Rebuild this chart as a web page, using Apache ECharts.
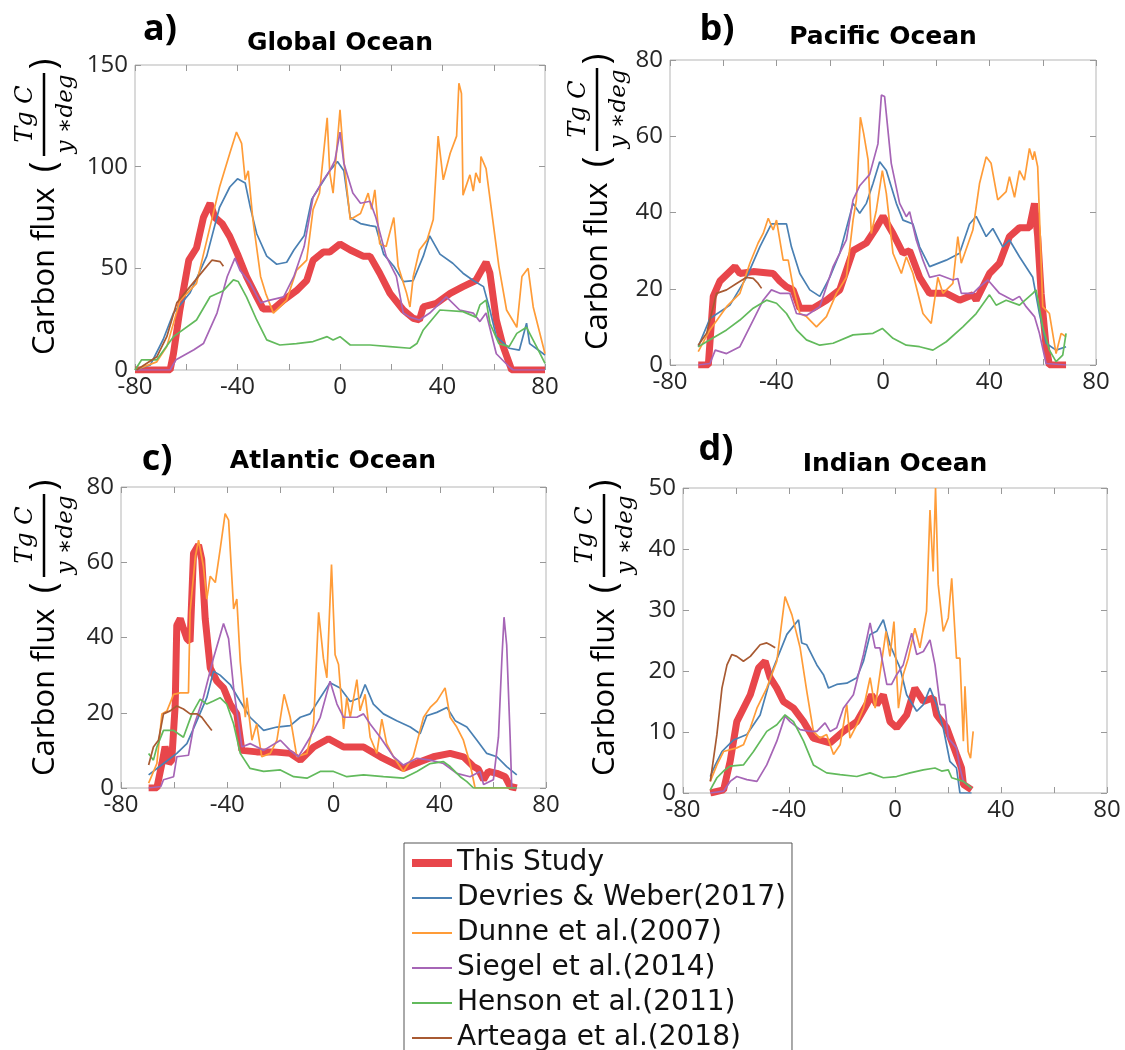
<!DOCTYPE html>
<html>
<head>
<meta charset="utf-8" />
<title>Carbon flux by latitude</title>
<script src="https://cdn.jsdelivr.net/npm/echarts@6/dist/echarts.min.js"></script>
<style>
  html, body { margin: 0; padding: 0; background: #fff; }
  #chart { width: 1125px; height: 1050px; }
</style>
</head>
<body>
<div id="chart"></div>
<script>
// series names (legend order)
var names = ['This Study', 'Devries & Weber(2017)', 'Dunne et al.(2007)', 'Siegel et al.(2014)', 'Henson et al.(2011)', 'Arteaga et al.(2018)'];
var colors = ['#e8464b', '#4a80b3', '#ff9c38', '#a665b6', '#62ba5c', '#a85a32'];

// panel titles and y ticks
var panelLabels = ['a)', 'b)', 'c)', 'd)'];
var panelTitles = ['Global Ocean', 'Pacific Ocean', 'Atlantic Ocean', 'Indian Ocean'];
var yMaxes = [150, 80, 80, 50];
var ySteps = [50, 20, 20, 10];
var xTicks = [-80, -40, 0, 40, 80];

/***** a) Global Ocean  [lat, flux] *****/
var gloRed = [[-80,0],[-66.3,0],[-65,8],[-62.5,29.5],[-59,54],[-56,60],[-53.3,75],[-50.7,82],[-48.8,75],[-46,72],[-43,65.6],[-40,57],[-36.5,46],[-32.5,36],[-30,30],[-26,30],[-22,34.4],[-17,39],[-13,44],[-10.5,54],[-6.5,58],[-4,58],[0,62],[4,59],[9,56],[11.7,56],[15.5,47.6],[19.5,37.7],[24.7,29.5],[28.6,25.4],[31,24.6],[32.5,31],[37.6,32.8],[43,37.7],[48,41],[53,44],[57,53],[58.5,47.6],[61,24.6],[63.7,11.5],[67,0],[80,0]];
var gloBlue = [[-80,0],[-74,2.5],[-69,15],[-65,28],[-58.5,38],[-52,56],[-47,80],[-43,90],[-40,94],[-37,92],[-35,80],[-32.5,67],[-28.6,56],[-24.7,52],[-20.8,53],[-18,59],[-14,66],[-11,84],[-8,90],[-4,98],[-1,102.5],[1.5,98],[4,75],[8,72],[11.7,71],[14,70.5],[17,57],[21,51],[24.7,43.5],[28.6,44],[32.5,56],[35,66],[39,57],[44,52.5],[48,47.6],[52,44],[56,41],[58.5,29.5],[61,16.4],[66,10.7],[70,9.8],[72.8,23],[74,13],[80,7.4]];
var gloOrange = [[-80,0],[-71.5,4],[-67.6,11.5],[-62.5,34],[-56,42.6],[-50.7,70.5],[-47,90],[-43,106.6],[-40.4,117],[-38.4,111.5],[-37,93.5],[-35.8,98],[-34,74],[-31,46],[-29,37.7],[-26,28],[-20.8,34.4],[-17,49],[-13,54],[-10.5,79],[-8,87],[-5,124],[-4,97],[-2.7,87],[0,128],[1.5,103],[4,74],[8,77],[11,87],[12.3,79],[13.6,88.6],[15.5,62],[18,60.7],[21,75],[22.7,51],[26,37.7],[27.3,31],[28.6,46],[31,59],[34,64],[36.4,74],[38.3,115],[40.3,93.5],[43,106.6],[45.5,115],[46.4,141],[47.4,136],[48,86],[50.7,96],[52,88],[53,97],[54.6,92],[55,105],[57,99],[59.6,74],[62,51],[65,29.5],[69,21],[71,46],[73.4,50],[75.4,31],[80,8]];
var gloPurple = [[-80,0],[-66.3,0],[-64,5],[-57,10],[-53.3,13],[-48,28],[-44,46],[-41,55],[-39,49],[-35,42.6],[-31,33],[-27.3,34.4],[-22,36],[-18,46],[-14,60.7],[-10.5,85],[-6.5,93.5],[-4,98],[-2,103],[0,117],[1.5,101.7],[5,87],[8,82],[11.7,83],[14,75],[18,56],[22,46],[24.7,28],[27.3,26],[31,24.6],[35,28],[41.5,36],[46.7,29.5],[52,28],[54.6,23.8],[57,28],[61,8],[66,1.6],[67.6,0],[80,0]];
var gloGreen = [[-80,0],[-77.4,5],[-71.5,5],[-65,16.4],[-56,24.6],[-50.7,36],[-45.5,39],[-41.6,44.3],[-39.7,43.5],[-36.5,36],[-32.5,24.6],[-28.6,14.8],[-23.5,12.3],[-17,13],[-10.5,14],[-5,16.4],[-2.7,14.8],[0,16.4],[4,12.3],[11.7,12.3],[19.5,11.5],[27.3,10.7],[30,13],[32.5,19.7],[39,29.5],[48,28.7],[53,26],[54.6,32],[57,34.4],[58.5,23],[62,13],[66,11.5],[69,18],[72.8,21],[76.7,11.5],[80,3.3]];
var gloBrown = [[-79.4,0],[-71.5,6.5],[-67.6,16.4],[-63.7,33],[-58.5,41],[-53.3,49],[-50,54],[-46.8,53.3],[-45.5,51]];

/***** b) Pacific Ocean *****/
var pacRed = [[-69.4,0],[-65.6,0],[-63.75,18],[-61.25,22],[-55.6,25.8],[-53.75,24],[-48.75,24.5],[-41.25,24],[-38.75,22],[-36.25,20.5],[-33.75,19.7],[-31.25,14.9],[-26.25,14.9],[-21.25,17],[-16.25,19.7],[-11.25,30],[-6.25,32],[-2.5,36],[0,39],[3.75,34.5],[7.5,29.3],[10,30],[13.75,23],[17.5,18.8],[23.75,18.8],[28.75,17],[33.75,18.4],[35,17],[40,24],[43.75,26.7],[47.5,33.7],[51.25,36],[55,36],[56.9,42.4],[58.1,33.7],[59.4,18.8],[61.25,4.8],[62.5,0],[68.75,0]];
var pacBlue = [[-69.4,4.8],[-65,12.2],[-57.5,15.7],[-51.25,23],[-46.25,31],[-41.9,37],[-36.25,37],[-34.4,31],[-31.25,24],[-27.5,19.7],[-23.75,18],[-20,23],[-16.25,29.3],[-11.25,42.4],[-8.75,39.8],[-6.25,42.4],[-3.75,47.6],[-1.25,53.3],[1.25,51],[5,42.4],[7.5,38],[11.25,37],[13.75,31],[17.5,25.8],[23.75,27.5],[28.75,29.3],[32.5,37],[35,39],[38.75,33.7],[41.25,35.8],[45,31],[47.5,32.8],[51.25,28.4],[56.25,23],[58.75,13.5],[61.25,5.7],[65,3.9],[68.75,4.8]];
var pacOrange = [[-69.4,3.5],[-65,9.2],[-58.75,15.3],[-53.75,18.8],[-50,26.7],[-46.9,32],[-45,34.5],[-43.1,38.5],[-41.25,35.4],[-40,38],[-37.5,27.5],[-35.6,27.5],[-33.75,20.5],[-31.25,13.5],[-28.75,12.7],[-25,10],[-21.25,12.7],[-17.5,18.8],[-13.75,23],[-11.25,38],[-10,43.3],[-8.5,65],[-7.25,60.7],[-5.6,53.8],[-4.4,34.5],[-2.5,40.6],[-0.25,51],[1.25,45],[3.75,29.3],[6.9,24],[8.75,28.4],[11.25,24],[15,13.5],[18.1,10.9],[20.6,23],[22.5,18.8],[26.25,21.4],[28.1,33.7],[29.4,26.7],[33.75,35.4],[36.25,47.6],[38.75,54.6],[40.6,52.9],[43.1,43.3],[46.25,45.5],[47.5,49.4],[49.4,44],[51.25,51],[53.1,48.5],[55,56.8],[56.25,53.8],[56.9,56],[58.1,52],[60,15.3],[62.5,13.5],[65,3],[66.9,8.3],[68.75,7.4]];
var pacPurple = [[-69.4,0],[-65,0.4],[-63,3.9],[-58.75,3],[-53.75,4.8],[-48.75,11.8],[-45,17],[-41.9,19.7],[-38.75,18.8],[-35,18.8],[-32.5,13.5],[-28.75,13],[-23.75,15.3],[-18.75,25.8],[-13.75,32.8],[-11.25,43.3],[-8.75,47],[-5,50],[-1.9,58],[-0.6,70.8],[0.6,70.4],[3.1,52.9],[6.25,42.4],[8.75,38.9],[10,40.2],[12.5,32.8],[15,27.5],[17.5,23],[21.25,23.6],[26.25,22.3],[28.1,22.7],[29.4,18.8],[33.75,18.8],[36.25,20.5],[39.4,22.3],[43.75,18.8],[48.75,17],[51.25,18],[53.75,15.3],[56.9,12.7],[58.75,8.3],[61.25,0.4],[68.75,0]];
var pacGreen = [[-69.4,4.8],[-65,6.6],[-58.75,9.2],[-53.75,11.8],[-48.75,14.9],[-43.75,17],[-40,16.2],[-36.25,13.5],[-32.5,9.2],[-28.75,6.6],[-23.75,5.2],[-18.75,5.7],[-11.25,7.9],[-3.75,8.3],[-0.25,9.6],[3.75,7],[8.75,5.2],[13.75,4.8],[18.75,3.9],[23.75,6.1],[30,10],[35,13.5],[40,18.4],[42.5,15.7],[46.25,17],[51.25,15.7],[56.25,18.8],[57.5,19.7],[60,10],[62.5,3.9],[65,0.9],[67.5,2.6],[68.75,8.3]];
var pacBrown = [[-69.4,5.2],[-66.25,8.3],[-62.5,18.8],[-58.75,19.7],[-55,21.4],[-51.25,23],[-48.75,22.7],[-46.9,21.4],[-45.6,20.1]];

/***** c) Atlantic Ocean *****/
var atlRed = [[-69.6,0],[-66.5,0],[-64.6,6.5],[-63.4,11],[-62,6.5],[-60.9,7.4],[-59.6,22],[-59,43.2],[-57.7,45],[-56.5,42.4],[-55.2,39.7],[-54,38.9],[-52.7,62.4],[-50.8,64.6],[-49.6,60.7],[-48.3,45],[-46.4,31.9],[-43.9,28.4],[-41.4,26.6],[-38.9,22.3],[-36.4,19.7],[-34.5,10],[-28.9,9.6],[-22.6,9.6],[-16.3,9.2],[-12.5,7.4],[-7.5,10.9],[-1.9,13.1],[3.8,10.9],[11.3,10.9],[17.6,8.3],[26.3,5.2],[32.6,7],[37.6,8.3],[43.9,9.2],[48.9,8.3],[52.7,5.7],[54.5,5],[56.5,2.2],[58.3,4.4],[61.5,3.9],[64.6,3],[66.5,0.4],[69,0]];
var atlBlue = [[-69.6,3.5],[-64,6.5],[-59,9.2],[-55.2,11.8],[-51.4,17.9],[-47.7,24],[-45.2,31],[-42.7,30],[-38.9,27.5],[-35.1,23],[-31.4,18.8],[-26.3,15.3],[-21.3,16.2],[-16.3,16.6],[-12.5,18.8],[-8.8,19.7],[-5,24],[-1.3,28],[2.5,26.6],[6.3,23],[10,24],[11.9,27.5],[15,22.3],[18.8,19.7],[23.8,17.9],[28.9,16.2],[32.6,14.4],[35.1,19.2],[38.9,20.1],[42.7,21.4],[45.8,17.9],[50.2,16.2],[54,12.7],[57.7,9.2],[61.5,8.3],[65.2,5.7],[69,3.5]];
var atlOrange = [[-69.6,1.3],[-66.5,6.5],[-64.6,19.7],[-62.7,20.5],[-60.2,24.9],[-57.7,25.3],[-54.6,25.3],[-54,46.7],[-52,61.6],[-50.8,65.9],[-49,59],[-47.7,50.2],[-46.4,56.3],[-44.5,54.6],[-42.7,63.3],[-40.8,72.9],[-39.5,71.2],[-37.6,47.6],[-36.4,50.2],[-35.1,33.6],[-33.2,18.8],[-32.6,24],[-30.7,12.7],[-28.9,17],[-27,8.3],[-23.8,9.2],[-21.3,12.7],[-18.6,24.9],[-16.3,18.8],[-13.8,8.3],[-10,9.2],[-7.5,17],[-5.6,46.7],[-3.8,34.5],[-2.5,29.3],[-0.75,59.4],[0.6,35.4],[1.9,32.8],[3.8,15.7],[5,24],[6.3,18.8],[8.8,28.8],[10,20.5],[11.9,24.9],[13.8,13.5],[16.3,9.2],[18.2,18.3],[20,11.8],[22.6,8.3],[26.3,4.4],[30,8.3],[33.9,18.8],[36.4,21.4],[38.9,23.1],[42,26.6],[43.9,18.8],[46.4,16.2],[48.9,12.7],[51.4,6.5],[53.3,0],[69,0]];
var atlPurple = [[-69.6,0],[-65,0.4],[-64,2.2],[-60.2,3],[-59,8.3],[-54.6,8.7],[-52.7,16.2],[-49,24],[-45.2,34.5],[-41.4,43.7],[-39.5,39.7],[-37.6,26.6],[-34.5,10.9],[-31.4,11.8],[-26.3,10],[-20,12.7],[-16.3,10],[-13.2,8.3],[-8.8,13.5],[-5,18.8],[-1.3,28.4],[1.3,22.3],[3.8,18.8],[8.8,18.8],[11.3,19.7],[13.8,17],[17.6,13.5],[22.6,8.3],[26.3,6.1],[31.4,7.9],[36.4,7.4],[41.4,6.5],[46.4,3.9],[51.4,3],[55.2,4.4],[56.5,0.9],[60.2,2.2],[62.1,13.5],[63.4,34.5],[64.2,45.4],[65.2,38],[66.5,13.5],[67.1,0],[69,0]];
var atlGreen = [[-69.6,9.2],[-67.8,7.4],[-66.5,10.9],[-64,15.3],[-60.2,15.3],[-56.5,13.5],[-53.3,19.7],[-50.2,23.6],[-47.7,22.3],[-45.2,23.1],[-42.7,24],[-40.2,22.3],[-37.6,17],[-35.1,9.2],[-31.4,5.2],[-26.3,4.4],[-20,4.8],[-15,3],[-10,2.6],[-5,4.4],[0,4.4],[5,3],[11.3,3.5],[18.8,3],[26.3,2.6],[31.4,4.4],[36.4,6.5],[41.4,7],[43.9,5.7],[47.7,3],[50.2,1.7],[52.7,0],[69,0]];
var atlBrown = [[-69.6,6.1],[-67.8,10.9],[-65.9,12.7],[-64,19.7],[-61.5,20.5],[-59,21.8],[-56.5,21],[-54,19.7],[-51.4,19.7],[-49.6,18.8],[-47.7,17],[-45.8,15.3]];

/***** d) Indian Ocean *****/
var indRed = [[-69.7,0],[-64.7,0.5],[-62.2,5.2],[-59.7,11.7],[-54.6,16.1],[-51.5,20.5],[-49,21.6],[-47.1,18.9],[-44.6,17.2],[-42.1,15],[-38.3,13.9],[-34.5,11.7],[-30.8,9],[-24.5,8.2],[-19.5,10.1],[-14.4,11.7],[-10.7,14.5],[-8.8,16.1],[-6.9,14.5],[-4.4,16.1],[-1.9,11.7],[0.6,10.7],[4.4,12.8],[7.5,17.2],[10.7,15],[14.4,15.6],[15.7,12.8],[19.5,10.7],[23.2,6.3],[25.1,4.1],[25.8,1.4],[28.9,0.5]];
var indBlue = [[-69.7,2.7],[-67.8,4.6],[-65.3,6.8],[-60.9,8.7],[-55.9,9.6],[-50.9,12.8],[-45.9,20.5],[-40.8,26],[-36.4,28.4],[-35.2,24.6],[-33.3,24.3],[-29.5,21],[-27,19.4],[-25.1,17.2],[-22,17.8],[-18.2,18],[-14.4,18.9],[-11.9,21.6],[-9.4,26],[-6.9,26.5],[-4.4,28.4],[-1.9,24.3],[1.9,20.5],[4.4,16.1],[8.2,13.4],[10.7,14.5],[13.2,17.2],[15.7,14.5],[18.2,10.7],[20.7,5.2],[23.2,4.1],[24.5,0],[28.9,0]];
var indOrange = [[-69.7,1.9],[-67.2,4.6],[-64.7,6.8],[-59.7,7.4],[-57.2,7.9],[-54.6,10.7],[-52.1,13.9],[-48.4,17.2],[-44.6,21.6],[-41.5,32.2],[-38.9,29.2],[-35.8,23.8],[-33.3,16.7],[-30.8,10.1],[-28.3,9],[-25.8,9.6],[-23.2,6.3],[-20.7,7.9],[-18.2,14.5],[-17,9],[-14.4,11.2],[-11.9,13.9],[-9.4,18.9],[-7.5,13.9],[-5,21.6],[-3.4,26.5],[-1.9,22.4],[-0.4,28.1],[1.3,13.9],[3.1,19.4],[5,22.1],[7.5,27],[9.4,23.8],[11.9,29.8],[13.2,46.4],[14.4,36.3],[15.3,50],[16.3,34.2],[18.2,26.5],[20.1,28.7],[21.4,35.2],[23.2,22.1],[24.5,22.1],[25.8,8.5],[26.4,17.5],[27.6,6.8],[28.5,5.7],[29.5,10.1]];
var indPurple = [[-69.7,0],[-64.7,0.3],[-62.2,1.9],[-59.7,2.7],[-55.9,2.2],[-52.1,1.9],[-48.4,4.6],[-44.6,8.5],[-41.5,12.6],[-39.6,11.7],[-35.8,10.4],[-32,10.1],[-29.5,10.1],[-26.4,11.5],[-24.5,10.1],[-22,10.7],[-19.5,13.9],[-15.7,16.1],[-11.9,22.7],[-9.4,27.9],[-7.5,23.8],[-5.7,23.8],[-3.1,17.8],[-1.3,17.8],[0.6,19.4],[3.1,21],[6.3,26.2],[8.2,22.7],[10.7,23.2],[13.2,25.1],[15.1,21],[17,14.5],[18.8,14.5],[20.1,9],[23.2,7.4],[24.5,4.1],[25.8,1.9],[28.9,0.8]];
var indGreen = [[-69.7,0.5],[-67.2,2.5],[-64.7,3.6],[-62.2,4.4],[-57.2,4.6],[-53.4,6.8],[-48.4,10.1],[-44.6,11.2],[-41.5,12.8],[-38.3,11.7],[-34.5,8.5],[-30.8,4.6],[-25.8,3.3],[-20.7,3],[-14.4,2.7],[-9.4,3.3],[-4.4,2.5],[0.6,2.7],[5.7,3.3],[10.7,3.8],[15.1,4.1],[17.6,3.6],[20.1,3.8],[21.4,2.5],[25.8,1.9],[28.9,0.8]];
var indBrown = [[-69.7,1.9],[-67.2,9.6],[-65.3,17.2],[-63.4,21],[-61.6,22.7],[-59.7,22.4],[-57.2,21.6],[-54.6,22.4],[-50.9,24.3],[-48.4,24.6],[-47.1,24.3],[-45.2,23.8]];

var panels = [
  [gloRed, gloBlue, gloOrange, gloPurple, gloGreen, gloBrown],
  [pacRed, pacBlue, pacOrange, pacPurple, pacGreen, pacBrown],
  [atlRed, atlBlue, atlOrange, atlPurple, atlGreen, atlBrown],
  [indRed, indBlue, indOrange, indPurple, indGreen, indBrown]
];

// plot boxes
var boxes = [
  { left: 135, top: 65, width: 410, height: 305 },
  { left: 670, top: 60, width: 426, height: 305 },
  { left: 121, top: 487, width: 425, height: 301 },
  { left: 683, top: 488, width: 424, height: 305 }
];
var labelPos = [[160, 30], [717, 30], [157, 460], [716, 450]];
var titlePos = [[340, 43], [883, 37], [333, 461], [895, 464]];
var yNamePos = [[45, 355], [598, 350], [45, 776], [605, 776]];

var FONT = 'Open Sans';
var tickColor = '#999';

var grid = [], xAxis = [], yAxis = [], series = [], graphic = [];
var i, k;
for (i = 0; i < 4; i++) {
  grid.push({ left: boxes[i].left, top: boxes[i].top, width: boxes[i].width, height: boxes[i].height,
    show: true, borderColor: '#b5b5b5', borderWidth: 1, backgroundColor: '#fff' });
}
// bottom / left axes with labels
for (i = 0; i < 4; i++) {
  xAxis.push({
    gridIndex: i, type: 'value', position: 'bottom', min: -80, max: 80, interval: 20,
    axisLine: { show: false, onZero: false }, splitLine: { show: false },
    axisTick: { inside: true, length: 6, lineStyle: { color: tickColor } },
    axisLabel: { showMinLabel: true, showMaxLabel: true, margin: 5, fontSize: 24, color: '#262626', fontFamily: FONT,
      formatter: function (v) { return xTicks.indexOf(v) >= 0 ? String(v) : ''; } }
  });
  yAxis.push({
    gridIndex: i, type: 'value', position: 'left', min: 0, max: yMaxes[i], interval: ySteps[i],
    axisLine: { show: false, onZero: false }, splitLine: { show: false },
    axisTick: { inside: true, length: 6, lineStyle: { color: tickColor } },
    axisLabel: { margin: 7, fontSize: 24, color: '#262626', fontFamily: FONT }
  });
}
// mirrored top / right ticks (box on)
for (i = 0; i < 4; i++) {
  xAxis.push({
    gridIndex: i, type: 'value', position: 'top', min: -80, max: 80, interval: 20,
    axisLine: { show: false, onZero: false }, splitLine: { show: false }, axisLabel: { show: false },
    axisTick: { inside: true, length: 6, lineStyle: { color: tickColor } }
  });
  yAxis.push({
    gridIndex: i, type: 'value', position: 'right', min: 0, max: yMaxes[i], interval: ySteps[i],
    axisLine: { show: false, onZero: false }, splitLine: { show: false }, axisLabel: { show: false },
    axisTick: { inside: true, length: 6, lineStyle: { color: tickColor } }
  });
}

for (i = 0; i < 4; i++) {
  for (k = 0; k < 6; k++) {
    series.push({
      name: names[k], type: 'line', xAxisIndex: i, yAxisIndex: i,
      data: panels[i][k], symbol: 'none', showSymbol: false,
      color: colors[k],
      lineStyle: { width: k === 0 ? 7 : 1.7, color: colors[k] },
      z: 2
    });
  }
}

function yName(x, y) {
  var base = { fill: '#000', textVerticalAlign: 'middle' };
  return {
    type: 'group', x: x, y: y, rotation: Math.PI / 2,
    children: [
      { type: 'text', style: Object.assign({ text: 'Carbon flux', x: 0, y: 0, textAlign: 'left', fontSize: 31, fontFamily: FONT }, base) },
      { type: 'text', style: Object.assign({ text: '(', x: 188, y: 0, textAlign: 'center', fontSize: 36, fontFamily: FONT }, base) },
      { type: 'line', shape: { x1: 199, y1: -1, x2: 282, y2: -1 }, style: { stroke: '#000', lineWidth: 2.5 } },
      { type: 'text', style: Object.assign({ text: 'Tg C', x: 241, y: -19, textAlign: 'center', fontSize: 24, fontStyle: 'italic', fontFamily: 'DejaVu Serif' }, base) },
      { type: 'text', style: Object.assign({ text: 'y \u2217deg', x: 241, y: 21, textAlign: 'center', fontSize: 23, fontStyle: 'italic', fontFamily: 'DejaVu Serif' }, base) },
      { type: 'text', style: Object.assign({ text: ')', x: 291, y: 0, textAlign: 'center', fontSize: 36, fontFamily: FONT }, base) }
    ]
  };
}

for (i = 0; i < 4; i++) {
  graphic.push({ type: 'text', style: { text: panelLabels[i], x: labelPos[i][0], y: labelPos[i][1],
    textAlign: 'center', textVerticalAlign: 'middle', fontSize: 36, fontWeight: 'bold', fontFamily: FONT, fill: '#000' } });
  graphic.push({ type: 'text', style: { text: panelTitles[i], x: titlePos[i][0], y: titlePos[i][1],
    textAlign: 'center', textVerticalAlign: 'middle', fontSize: 25, fontWeight: 'bold', fontFamily: 'DejaVu Sans', fill: '#000' } });
  graphic.push(yName(yNamePos[i][0], yNamePos[i][1]));
}

// legend entries: thick line for this study
var legendData = [];
for (k = 0; k < names.length; k++) {
  legendData.push({ name: names[k], lineStyle: { width: k === 0 ? 8 : 2, color: colors[k] } });
}

var myChart = echarts.init(document.getElementById('chart'));
myChart.setOption({
  backgroundColor: '#fff',
  animation: false,
  grid: grid,
  xAxis: xAxis,
  yAxis: yAxis,
  legend: {
    data: legendData, orient: 'vertical', left: 404, top: 843, height: 260,
    itemWidth: 40, itemHeight: 22, itemGap: 7,
    itemStyle: { opacity: 0 },
    textStyle: { fontSize: 28, color: '#111', fontFamily: 'DejaVu Sans' },
    borderColor: '#555', borderWidth: 1, padding: [6, 6, 20, 4], backgroundColor: '#fff'
  },
  graphic: graphic,
  series: series
});
</script>
</body>
</html>
